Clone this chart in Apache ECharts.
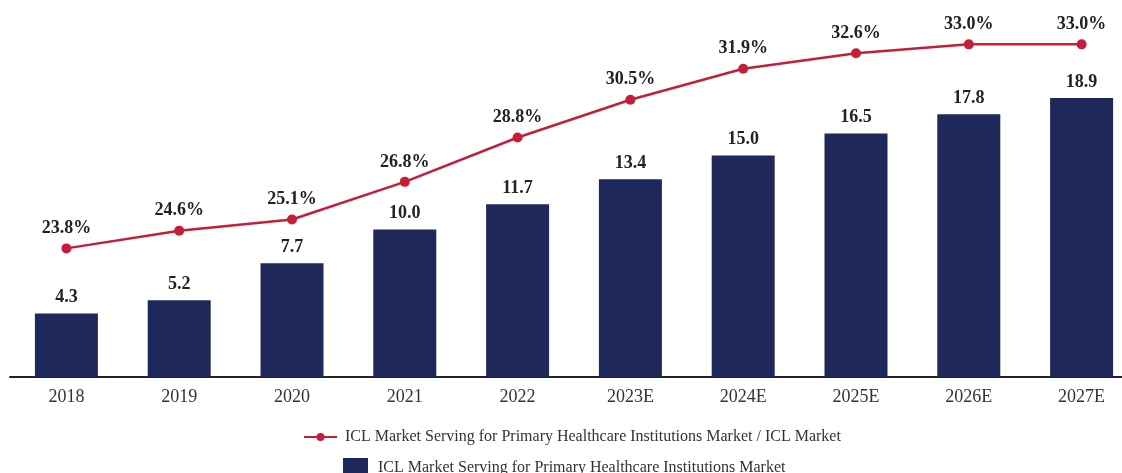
<!DOCTYPE html>
<html>
<head>
<meta charset="utf-8">
<script src="https://cdn.jsdelivr.net/npm/echarts@6/dist/echarts.min.js"></script>
<style>
html, body { margin: 0; padding: 0; background: #fff; }
#chart { width: 1122px; height: 473px; }
</style>
</head>
<body>
<div id="chart"></div>
<script>
// 数据
var years = ['2018', '2019', '2020', '2021', '2022', '2023E', '2024E', '2025E', '2026E', '2027E'];
var marketSize = [4.3, 5.2, 7.7, 10.0, 11.7, 13.4, 15.0, 16.5, 17.8, 18.9];
var sharePct = [23.8, 24.6, 25.1, 26.8, 28.8, 30.5, 31.9, 32.6, 33.0, 33.0];

var barName = 'ICL Market Serving for Primary Healthcare Institutions Market';
var lineName = 'ICL Market Serving for Primary Healthcare Institutions Market / ICL Market';
var serif = '"Liberation Serif", "Times New Roman", serif';

var myChart = echarts.init(document.getElementById('chart'));
myChart.setOption({
	animation: false,
	grid: { left: 10, width: 1128, top: 8, height: 369, outerBoundsMode: 'none' },
	legend: [{
		data: [lineName],
		left: 298, top: 424,
		itemWidth: 33, itemHeight: 10,
		itemGap: 8,
		textStyle: { fontFamily: serif, fontSize: 16, color: '#333', padding: [0, 0, 0, 3] }
	}, {
		data: [{ name: barName, icon: 'rect' }],
		left: 338, top: 453,
		itemWidth: 25, itemHeight: 20,
		textStyle: { fontFamily: serif, fontSize: 16, color: '#333', padding: [0, 0, 0, 5] }
	}],
	xAxis: {
		type: 'category',
		data: years,
		axisTick: { show: false },
		axisLine: { lineStyle: { color: '#222', width: 2 } },
		axisLabel: { fontFamily: serif, fontSize: 18, color: '#333', margin: 11 }
	},
	yAxis: [{
		type: 'value', min: 0, max: 25, show: false
	}, {
		type: 'value', min: 18, max: 34.64, show: false
	}],
	series: [{
		name: barName,
		type: 'bar',
		data: marketSize,
		barWidth: 63,
		itemStyle: { color: '#1f285a' },
		label: {
			show: true, position: 'top', distance: 7,
			fontFamily: serif, fontSize: 18, fontWeight: 'bold', color: '#222',
			formatter: function (p) { return p.value.toFixed(1); }
		}
	}, {
		name: lineName,
		type: 'line',
		yAxisIndex: 1,
		data: sharePct,
		symbol: 'circle',
		symbolSize: 10,
		lineStyle: { color: '#c41e3a', width: 2.5 },
		itemStyle: { color: '#c41e3a' },
		label: {
			show: true, position: 'top', distance: 6,
			fontFamily: serif, fontSize: 18, fontWeight: 'bold', color: '#222',
			formatter: function (p) { return p.value.toFixed(1) + '%'; }
		}
	}]
});
</script>
</body>
</html>
